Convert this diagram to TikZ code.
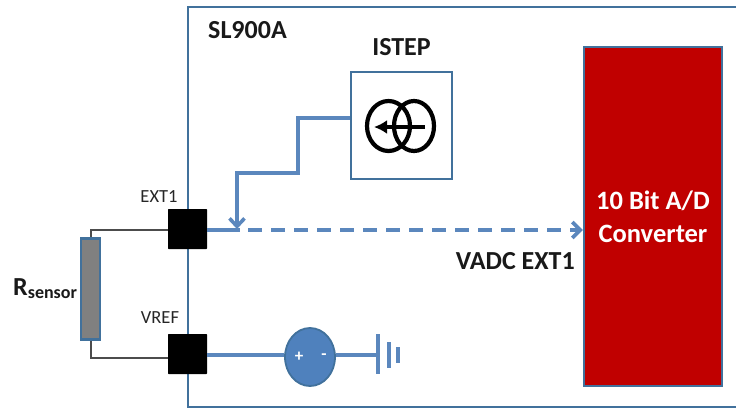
\documentclass[tikz,border=0pt]{standalone}
\usepackage{fontspec}
\setmainfont{Carlito}
\usetikzlibrary{arrows.meta,shapes.geometric}
\definecolor{bbord}{HTML}{41719C}
\definecolor{bline}{HTML}{5B87BD}
\definecolor{bfill}{HTML}{4F81BD}
\definecolor{redfill}{HTML}{C00000}
\tikzset{
  x=1pt,y=-1pt,
  frame/.style={draw=bbord,line width=2.1pt},
  wire/.style={draw=bline,line width=3.6pt},
  pad/.style={draw=none,fill=black,rounded corners=0.6pt,minimum width=39pt,minimum height=40pt,inner sep=0},
  lead/.style={draw=black!70,line width=1.2pt},
  lbl/.style={inner sep=0,font=\fontsize{18.5}{22}\selectfont,text=black!85},
  blbl/.style={inner sep=0,font=\fontsize{26}{30}\selectfont\bfseries,text=black!90},
}
\begin{document}
\begin{tikzpicture}
\useasboundingbox (0,0) rectangle (736,410);
% chip outline
\draw[frame] (736,7) -- (188,7) -- (188,407) -- (736,407);
% ADC
\node[draw=bbord,line width=2.4pt,fill=redfill,minimum width=138pt,minimum height=339pt,inner sep=0] (adc) at (653,216.5) {};
\node[inner sep=0,align=center,text=white,font=\fontsize{26.5}{33}\selectfont\bfseries] (adct) at (653,217) {10 Bit A/D\\Converter};
% ISTEP
\node[draw=bbord,line width=2pt,fill=white,minimum width=101pt,minimum height=107pt,inner sep=0] (istep) at (401.5,125.5) {};
\draw[black,line width=4.2pt] (388.5,126) ellipse (21.5pt and 25pt);
\draw[black,line width=4.2pt] (414,126) ellipse (20pt and 25pt);
\coordinate (ia) at (425,127);
\coordinate (ib) at (374,127);
\draw[black,line width=3.4pt,-{Latex[length=13pt,width=14pt]}] (ia) -- (ib);
% pads
\node[pad] (ext) at (187.5,229) {};
\node[pad] (vref) at (187.5,354) {};
% source and ground
\node[draw=bbord,line width=1.8pt,fill=bfill,ellipse,minimum width=50pt,minimum height=58pt,inner sep=0] (src) at (310,357) {};
\node[inner sep=0,text=white,font=\fontsize{17}{17}\selectfont\bfseries] (plus) at (299,357) {+};
\node[inner sep=0,text=white,font=\fontsize{17}{17}\selectfont\bfseries] (minus) at (324,357) {-};
\coordinate (g1) at (378,355);
\draw[wire] (vref.east |- 0,355) -- (src.west |- 0,355);
\draw[wire] (src.east |- 0,355) -- (g1);
\draw[bline,line width=3.6pt] (378,334) -- (378,374);
\draw[bline,line width=3.6pt] (389,342) -- (389,368);
\draw[bline,line width=3.6pt] (398,347) -- (398,363);
% ISTEP connector
\coordinate (j) at (237,229);
\draw[wire,-{Straight Barb[length=8pt,width=15pt]}] (istep.west |- 0,118) -- (298,118) -- (298,173) -- (237,173) -- (j);
% ADC connector
\coordinate (d) at (240,230);
\draw[wire] (ext.east |- 0,230) -- (d);
\draw[wire,dash pattern=on 14pt off 9pt,-{Straight Barb[length=8pt,width=16pt]}] (248,230) -- (adc.west |- 0,230);
% sensor
\node[draw=bbord,line width=2.4pt,fill=black!50,minimum width=19pt,minimum height=101pt,inner sep=0] (rs) at (90.5,289) {};
\draw[lead] (ext.west |- 0,230) -- (91,230) -- (rs.north -| 91,0);
\draw[lead] (vref.west |- 0,358) -- (91,358) -- (rs.south -| 91,0);
% labels
\node[blbl,anchor=base west] (chip) at (208,38) {SL900A};
\node[blbl,anchor=base] (istl) at (401.5,55) {ISTEP};
\node[lbl,anchor=base] (extl) at (159,202) {EXT1};
\node[lbl,anchor=base] (vrefl) at (160,323) {VREF};
\node[blbl,anchor=base east] (vadc) at (575,269) {VADC EXT1};
\node[inner sep=0,anchor=base west,font=\fontsize{26}{26}\selectfont\bfseries,text=black!90] (rl) at (13,295) {R\raisebox{-3.5pt}{\fontsize{18}{18}\selectfont sensor}};
\end{tikzpicture}
\end{document}
